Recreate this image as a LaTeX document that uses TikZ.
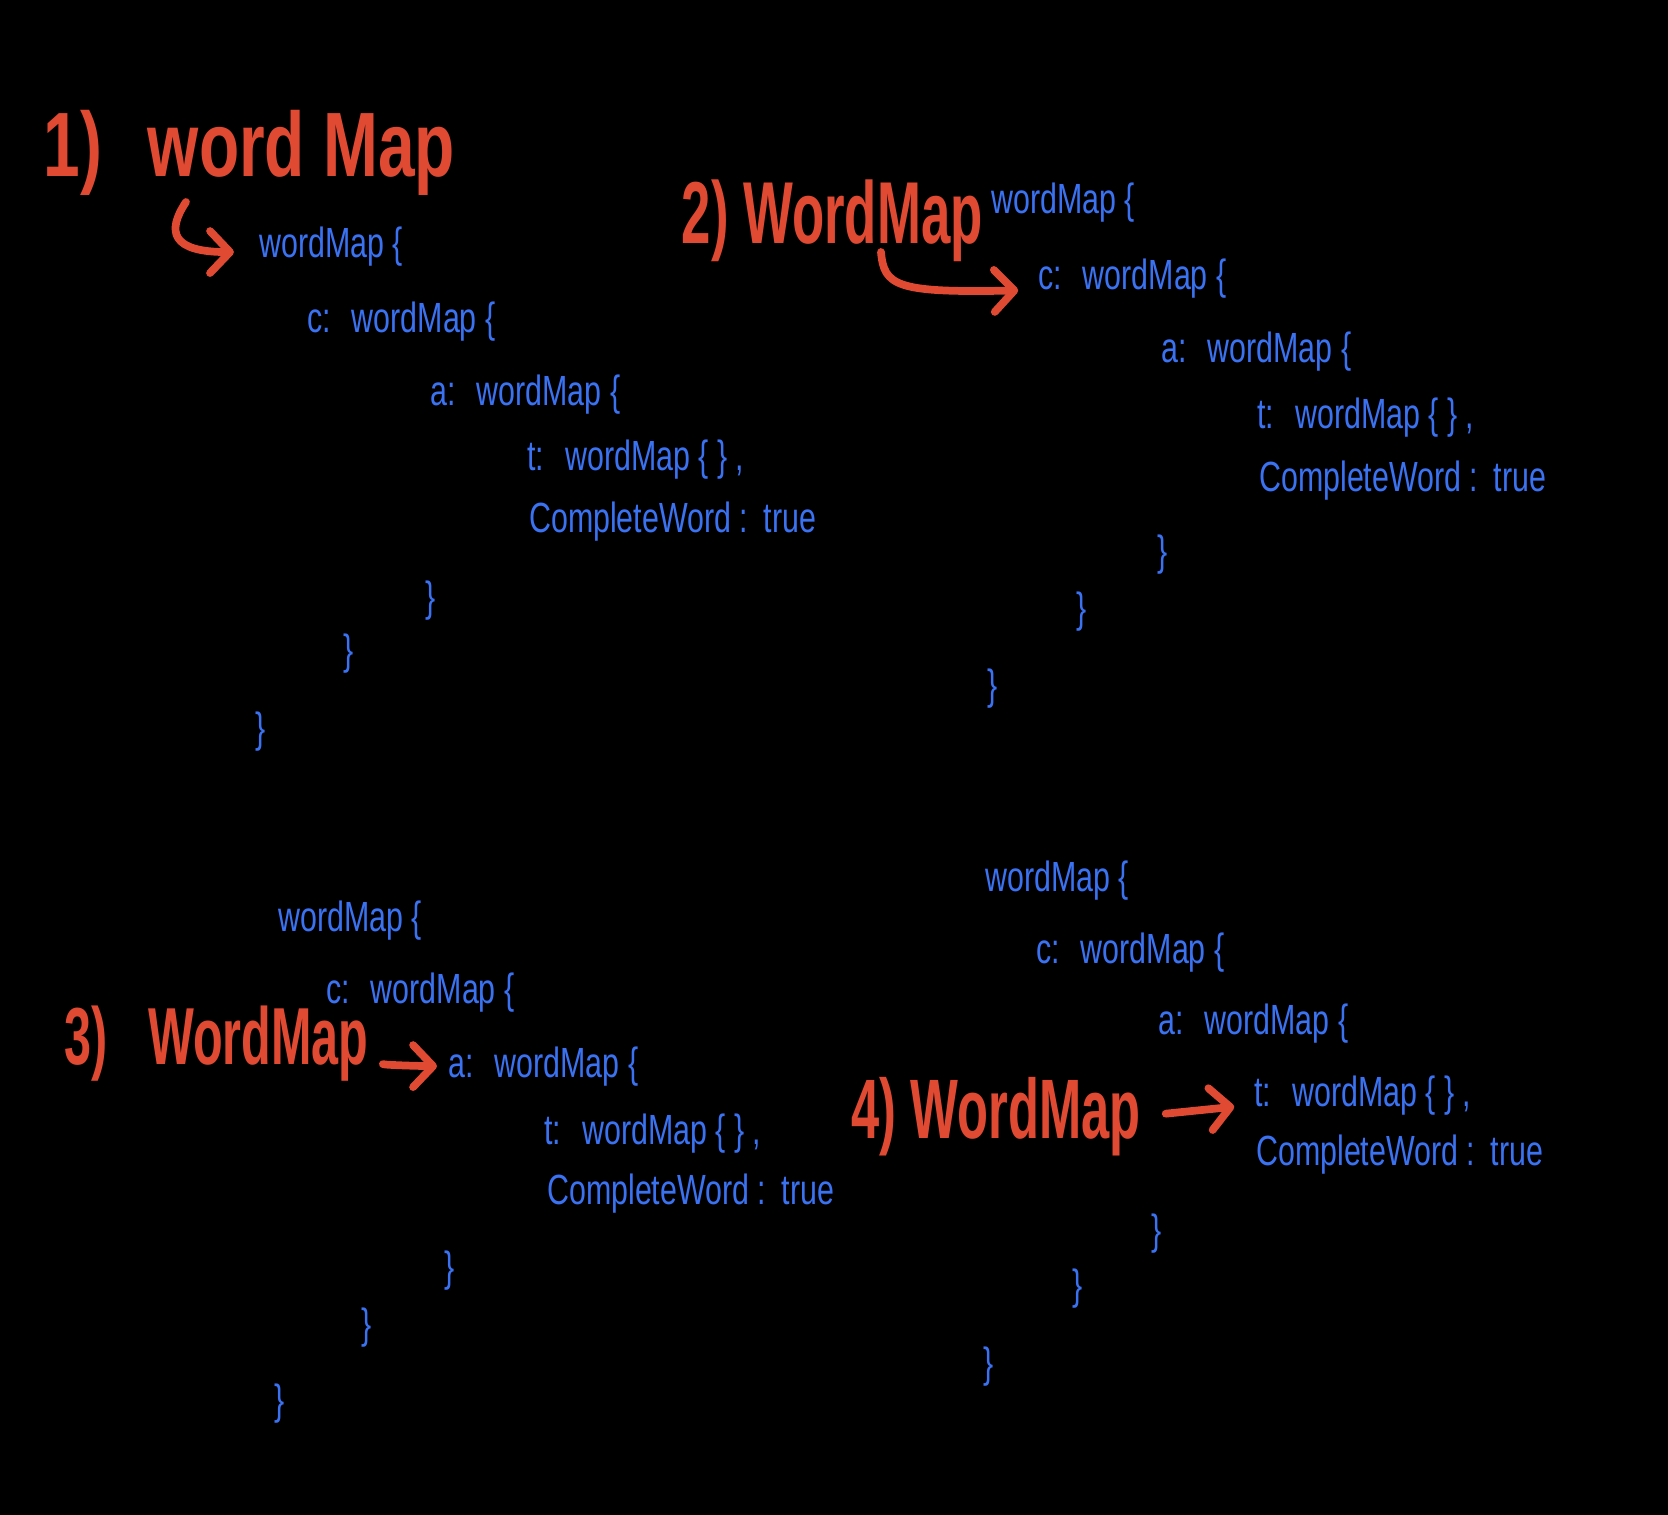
\documentclass[tikz,border=0pt]{standalone}
\usepackage{fontspec}
\usepackage{xcolor}
\usepackage{tikz}
\usetikzlibrary{arrows.meta,positioning}
\newfontfamily\handfont[FakeStretch=0.72]{Liberation Sans}
\newfontfamily\titlefont[FakeStretch=0.6]{Liberation Sans}
\newfontfamily\titlewide[FakeStretch=0.72]{Liberation Sans}
\definecolor{inkred}{HTML}{E04A33}
\definecolor{inkblue}{HTML}{3A72F2}
\newcommand{\gap}{\hspace{6pt}}

\begin{document}
\begin{tikzpicture}[x=0.01cm,y=-0.01cm,
    code/.style={text=inkblue,font=\handfont\fontsize{12}{14}\selectfont,anchor=base west,inner sep=1pt},
    closer/.style={text=inkblue,font=\handfont\fontsize{12}{14}\selectfont,inner sep=0pt},
    title/.style={text=inkred,font=\titlefont\bfseries\fontsize{24}{30}\selectfont,anchor=base west,inner sep=0pt},
    pointer/.style={draw=inkred,line width=2.2pt,line cap=round,
        -{Straight Barb[length=2mm,width=4.2mm,round]}}]
  \fill[black] (0,0) rectangle (1668,1515);
  \useasboundingbox (0,0) rectangle (1668,1515);

  % 1)
  \node[title,font=\titlewide\bfseries\fontsize{26}{30}\selectfont] (title1) at (43,176) {1)\enspace word Map};
  \node[code] (root1) at (255,257) {wordMap \{};
  \node[code] (cmap1) at (303,332) {c:\gap wordMap \{};
  \node[code] (amap1) at (426,406) {a:\gap wordMap \{};
  \node[code] (tmap1) at (523,470) {t:\enspace wordMap \{\ \}\ ,};
  \node[code] (flag1) at (525,532) {CompleteWord\ :\ \,true};
  \node[closer] (close1a) at (431,601) {\}};
  \node[closer] (close1b) at (349,654) {\}};
  \node[closer] (close1c) at (261,732) {\}};
  \coordinate (hook1) at (186,202);
  \draw[pointer,shorten >=6pt] (hook1) .. controls (166,232) and (172,252) .. ([yshift=-0.6mm]root1.west);

  % 2)
  \node[title,font=\titlefont\bfseries\fontsize{25}{30}\selectfont] (title2) at (681,243) {2) WordMap};
  \node[code] (root2) at (987,213) {wordMap \{};
  \node[code] (cmap2) at (1034,289) {c:\gap wordMap \{};
  \node[code] (amap2) at (1157,362) {a:\gap wordMap \{};
  \node[code] (tmap2) at (1253,428) {t:\enspace wordMap \{\ \}\ ,};
  \node[code] (flag2) at (1255,491) {CompleteWord\ :\ \,true};
  \node[closer] (close2a) at (1163,555) {\}};
  \node[closer] (close2b) at (1082,612) {\}};
  \node[closer] (close2c) at (993,689) {\}};
  \coordinate (hook2) at (881,252);
  \draw[pointer,shorten >=4.5pt] (hook2) .. controls (884,286) and (896,293) .. ([yshift=-1.2mm]cmap2.west);

  % 3)
  \node[title,font=\titlefont\bfseries\fontsize{23}{30}\selectfont] (title3) at (64,1064) {3)\enspace WordMap};
  \node[code] (root3) at (274,931) {wordMap \{};
  \node[code] (cmap3) at (322,1003) {c:\gap wordMap \{};
  \node[code] (amap3) at (444,1077) {a:\gap wordMap \{};
  \node[code] (tmap3) at (540,1144) {t:\enspace wordMap \{\ \}\ ,};
  \node[code] (flag3) at (543,1204) {CompleteWord\ :\ \,true};
  \node[closer] (close3a) at (450,1271) {\}};
  \node[closer] (close3b) at (367,1328) {\}};
  \node[closer] (close3c) at (280,1404) {\}};
  \draw[pointer,shorten <=5pt,shorten >=2pt] ([yshift=-1mm]title3.east) .. controls +(15,12) and +(-20,0) .. (amap3.west);

  % 4)
  \node[title] (title4) at (851,1138) {4) WordMap};
  \node[code] (root4) at (981,891) {wordMap \{};
  \node[code] (cmap4) at (1032,963) {c:\gap wordMap \{};
  \node[code] (amap4) at (1154,1034) {a:\gap wordMap \{};
  \node[code] (tmap4) at (1250,1106) {t:\enspace wordMap \{\ \}\ ,};
  \node[code] (flag4) at (1252,1165) {CompleteWord\ :\ \,true};
  \node[closer] (close4a) at (1157,1234) {\}};
  \node[closer] (close4b) at (1078,1289) {\}};
  \node[closer] (close4c) at (989,1367) {\}};
  \draw[pointer,shorten <=7pt,shorten >=4.5pt] (title4.east) -- ([yshift=-1mm]tmap4.west);
\end{tikzpicture}
\end{document}
